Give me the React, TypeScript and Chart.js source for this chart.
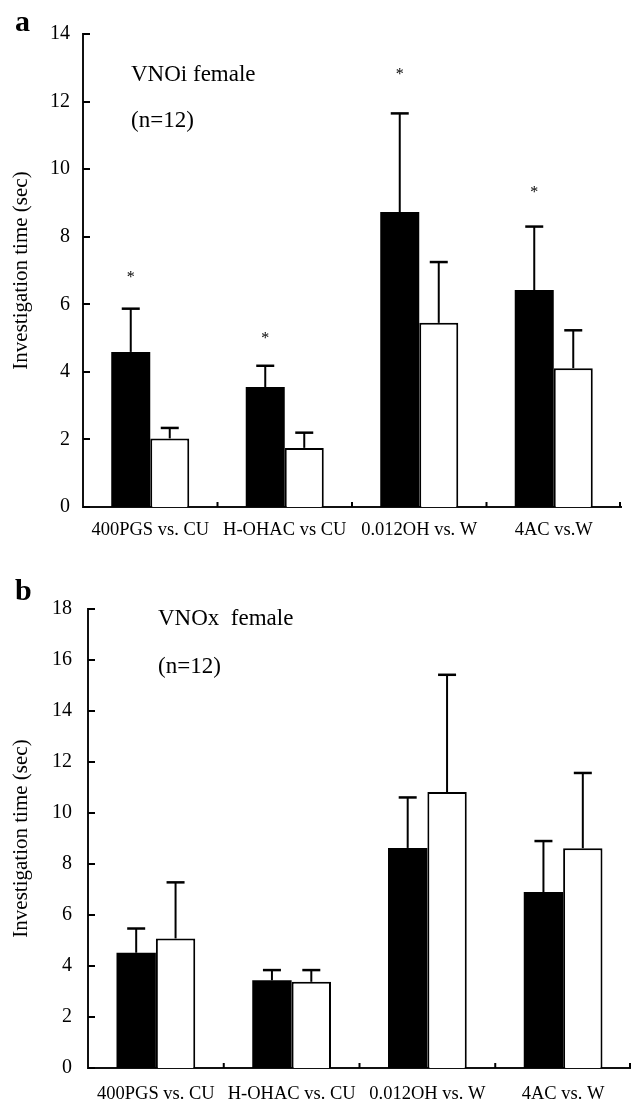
import { useEffect, useRef } from "react";
import { Chart, registerables } from "chart.js";

Chart.register(...registerables);

const FONT = "'Liberation Serif', 'Times New Roman', Times, serif";

// ---------- Panel a (VNOi female) ----------
const categoriesA = ["400PGS vs. CU", "H-OHAC vs CU", "0.012OH vs. W", "4AC vs.W"];
const blackA = [4.59, 3.55, 8.73, 6.42];
const blackSemA = [1.28, 0.63, 2.92, 1.88];
const whiteA = [2.03, 1.75, 5.45, 4.11];
const whiteSemA = [0.31, 0.45, 1.8, 1.12];
const starsA = [6.9, 5.1, 12.9, 9.4];
const yMaxA = 14;

// ---------- Panel b (VNOx female) ----------
const categoriesB = ["400PGS vs. CU", "H-OHAC vs. CU", "0.012OH vs. W", "4AC vs. W"];
const blackB = [4.52, 3.44, 8.63, 6.9];
const blackSemB = [0.95, 0.4, 1.98, 2.0];
const whiteB = [5.08, 3.38, 10.82, 8.62];
const whiteSemB = [2.2, 0.46, 4.6, 2.95];
const starsB: (number | null)[] = [null, null, null, null];
const yMaxB = 18;

const yStep = 2;
const yTitle = "Investigation time (sec)";

const decorPlugin = {
  id: "decor",
  afterDraw(chart: any, _args: any, opts: any) {
    const { ctx, chartArea } = chart;
    const ys = chart.scales.y;
    const xs = chart.scales.x;
    ctx.save();
    ctx.strokeStyle = "#000";
    ctx.fillStyle = "#000";
    ctx.lineWidth = 2;
    ctx.lineCap = "butt";
    // inner y ticks
    ys.ticks.forEach((_t: any, i: number) => {
      const py = Math.round(ys.getPixelForTick(i));
      ctx.beginPath();
      ctx.moveTo(chartArea.left, py);
      ctx.lineTo(chartArea.left + 7, py);
      ctx.stroke();
    });
    // x ticks at category boundaries (pointing up)
    const n = chart.data.labels.length;
    for (let i = 1; i <= n; i++) {
      const px =
        i < n
          ? (xs.getPixelForValue(i - 1) + xs.getPixelForValue(i)) / 2
          : chartArea.right - 1;
      ctx.beginPath();
      ctx.moveTo(px, chartArea.bottom);
      ctx.lineTo(px, chartArea.bottom - 5);
      ctx.stroke();
    }
    // error bars
    chart.data.datasets.forEach((ds: any, di: number) => {
      const meta = chart.getDatasetMeta(di);
      const errs = opts.errors[di];
      meta.data.forEach((el: any, i: number) => {
        const v = ds.data[i];
        const yb = ys.getPixelForValue(v);
        const yt = ys.getPixelForValue(v + errs[i]);
        ctx.lineWidth = 2;
        ctx.beginPath();
        ctx.moveTo(el.x, yb);
        ctx.lineTo(el.x, yt);
        ctx.stroke();
        ctx.lineWidth = 2.5;
        ctx.beginPath();
        ctx.moveTo(el.x - 9, yt);
        ctx.lineTo(el.x + 9, yt);
        ctx.stroke();
      });
    });
    // significance stars above black bars
    const m0 = chart.getDatasetMeta(0);
    ctx.font = `16px ${FONT}`;
    ctx.textAlign = "center";
    ctx.textBaseline = "alphabetic";
    opts.stars.forEach((s: number | null, i: number) => {
      if (s == null) return;
      ctx.fillText("*", m0.data[i].x, ys.getPixelForValue(s) + 8);
    });
    // annotations
    ctx.textAlign = "left";
    opts.notes.forEach((nt: any) => {
      ctx.font = nt.font;
      ctx.fillText(nt.text, nt.x, nt.y);
    });
    ctx.restore();
  },
};

function makeChart(canvas: HTMLCanvasElement, p: any) {
  return new Chart(canvas, {
    type: "bar",
    data: {
      labels: p.categories,
      datasets: [
        {
          data: p.black,
          backgroundColor: "#000",
          borderWidth: 0,
          categoryPercentage: 0.58,
          barPercentage: 1,
        },
        {
          data: p.white,
          backgroundColor: "#fff",
          borderColor: "#000",
          borderWidth: 2,
          categoryPercentage: 0.58,
          barPercentage: 1,
        },
      ],
    },
    options: {
      responsive: false,
      animation: false,
      devicePixelRatio: 1,
      layout: { padding: { top: p.padTop, right: p.padRight, left: 0, bottom: 0 } },
      plugins: {
        legend: { display: false },
        tooltip: { enabled: false },
        decor: { errors: [p.blackSem, p.whiteSem], stars: p.stars, notes: p.notes },
      } as any,
      scales: {
        x: {
          grid: { display: false, drawTicks: false },
          border: { display: true, color: "#111", width: 2 },
          ticks: {
            color: "#000",
            font: { family: FONT, size: 18.5 },
            padding: p.xPad,
            autoSkip: false,
            maxRotation: 0,
          },
          afterFit: (s: any) => {
            s.height = p.xHeight;
          },
        },
        y: {
          min: 0,
          max: p.yMax,
          grid: { display: false, drawTicks: false },
          border: { display: true, color: "#111", width: 2 },
          ticks: {
            stepSize: yStep,
            color: "#000",
            font: { family: FONT, size: 20 },
            padding: p.yPad,
          },
          title: {
            display: true,
            text: yTitle,
            color: "#000",
            font: { family: FONT, size: 21 },
            padding: { top: 9, bottom: 0 },
          },
          afterFit: (s: any) => {
            s.width = p.yWidth;
          },
        },
      },
    },
    plugins: [decorPlugin],
  });
}

export default function App() {
  const refA = useRef<HTMLCanvasElement>(null);
  const refB = useRef<HTMLCanvasElement>(null);
  useEffect(() => {
    const a = makeChart(refA.current!, {
      categories: categoriesA,
      black: blackA,
      blackSem: blackSemA,
      white: whiteA,
      whiteSem: whiteSemA,
      stars: starsA,
      yMax: yMaxA,
      padTop: 34,
      padRight: 10,
      yWidth: 83,
      xHeight: 53,
      xPad: 12,
      yPad: 13,
      notes: [
        { text: "a", x: 15, y: 31, font: `bold 30px ${FONT}` },
        { text: "VNOi female", x: 131, y: 81, font: `23px ${FONT}` },
        { text: "(n=12)", x: 131, y: 127, font: `23px ${FONT}` },
      ],
    });
    const b = makeChart(refB.current!, {
      categories: categoriesB,
      black: blackB,
      blackSem: blackSemB,
      white: whiteB,
      whiteSem: whiteSemB,
      stars: starsB,
      yMax: yMaxB,
      padTop: 49,
      padRight: 0,
      yWidth: 88,
      xHeight: 36,
      xPad: 15,
      yPad: 16,
      notes: [
        { text: "b", x: 15, y: 40, font: `bold 30px ${FONT}` },
        { text: "VNOx  female", x: 158, y: 65, font: `23px ${FONT}` },
        { text: "(n=12)", x: 158, y: 113, font: `23px ${FONT}` },
      ],
    });
    return () => {
      a.destroy();
      b.destroy();
    };
  }, []);
  return (
    <div style={{ position: "absolute", left: 0, top: 0, width: 631, height: 1104, background: "#fff" }}>
      <canvas
        ref={refA}
        width={631}
        height={560}
        style={{ position: "absolute", left: 0, top: 0, width: 631, height: 560 }}
      />
      <canvas
        ref={refB}
        width={631}
        height={544}
        style={{ position: "absolute", left: 0, top: 560, width: 631, height: 544 }}
      />
    </div>
  );
}
